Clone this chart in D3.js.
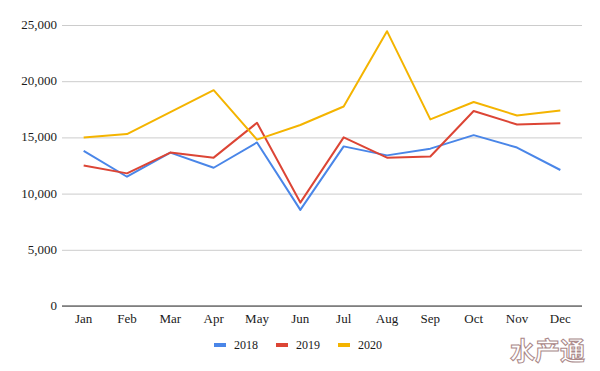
<!DOCTYPE html>
<html>
<head>
<meta charset="utf-8">
<script src="https://cdn.jsdelivr.net/npm/d3@7"></script>
<style>
    body { margin: 0; background: #fff; }
    text { font-family: "Liberation Serif", "DejaVu Serif", serif; fill: #1a1a1a; }
    .grid line { stroke: #cccccc; }
    .grid path { display: none; }
</style>
</head>
<body>
<div id="container"></div>
<script>
// chart data
var months = ["Jan", "Feb", "Mar", "Apr", "May", "Jun", "Jul", "Aug", "Sep", "Oct", "Nov", "Dec"];
var years = ["2018", "2019", "2020"];
var values2018 = [13800, 11500, 13650, 12300, 14550, 8550, 14200, 13400, 14000, 15200, 14100, 12100];
var values2019 = [12500, 11800, 13650, 13200, 16300, 9200, 15000, 13200, 13300, 17350, 16150, 16250];
var values2020 = [15000, 15300, 17250, 19200, 14800, 16100, 17750, 24450, 16600, 18150, 16950, 17400];
var yTicks = [0, 5000, 10000, 15000, 20000, 25000];

// set variables for further use
var canvasX = 600;
var canvasY = 371;
var plotLeft = 62;
var plotRight = 582;
var plotTop = 25;
var plotBottom = 306;
var colors = ["#4a86e8", "#dc4535", "#f4b400"];

var series = [values2018, values2019, values2020];

// make svg
var svg = d3.select("#container")
            .append("svg")
            .attr("width", canvasX)
            .attr("height", canvasY);

// scales
var xScaled = d3.scalePoint()
                .domain(months)
                .range([plotLeft, plotRight])
                .padding(0.5);

var yScaled = d3.scaleLinear()
                .domain([0, 25000])
                .range([plotBottom, plotTop]);

// gridlines
svg.append("g")
   .attr("class", "grid")
   .attr("transform", "translate(" + plotLeft + ",0)")
   .call(d3.axisLeft(yScaled).tickValues(yTicks).tickSize(-(plotRight - plotLeft)).tickFormat(""));

// y labels
svg.append("g")
   .selectAll("text")
   .data(yTicks)
   .enter()
   .append("text")
   .attr("x", plotLeft - 5)
   .attr("y", function(d) { return yScaled(d) + 4; })
   .attr("text-anchor", "end")
   .style("font-size", "13px")
   .text(function(d) { return d3.format(",")(d); });

// x axis line
svg.append("line")
   .attr("x1", plotLeft)
   .attr("x2", plotRight)
   .attr("y1", yScaled(0))
   .attr("y2", yScaled(0))
   .attr("stroke", "#333")
   .attr("stroke-width", 1);

// x labels
svg.append("g")
   .selectAll("text")
   .data(months)
   .enter()
   .append("text")
   .attr("x", function(d) { return xScaled(d); })
   .attr("y", plotBottom + 17)
   .attr("text-anchor", "middle")
   .style("font-size", "13px")
   .text(function(d) { return d; });

// lines
var line = d3.line()
             .x(function(d, i) { return xScaled(months[i]); })
             .y(function(d) { return yScaled(d); });

svg.append("g")
   .selectAll("path")
   .data(series)
   .enter()
   .append("path")
   .attr("d", line)
   .attr("fill", "none")
   .attr("stroke", function(d, i) { return colors[i]; })
   .attr("stroke-width", 2)
   .attr("stroke-linejoin", "round");

// legend
var legend = svg.append("g")
                .selectAll("g")
                .data(years)
                .enter()
                .append("g")
                .attr("transform", function(d, i) {
                    return "translate(" + (214 + i * 62) + ",345)";
                });

legend.append("rect")
      .attr("x", 0)
      .attr("y", -2)
      .attr("width", 12)
      .attr("height", 4)
      .attr("fill", function(d, i) { return colors[i]; });

legend.append("text")
      .attr("x", 20)
      .attr("y", 4)
      .style("font-size", "12px")
      .text(function(d) { return d; });

// watermark
svg.append("text")
   .attr("x", 585)
   .attr("y", 360)
   .attr("text-anchor", "end")
   .style("font-family", "Noto Sans CJK SC")
   .style("font-size", "25px")
   .style("font-weight", "bold")
   .style("fill", "#fff")
   .attr("stroke", "#a88")
   .attr("stroke-width", 1)
   .text("水产通");
</script>
</body>
</html>
